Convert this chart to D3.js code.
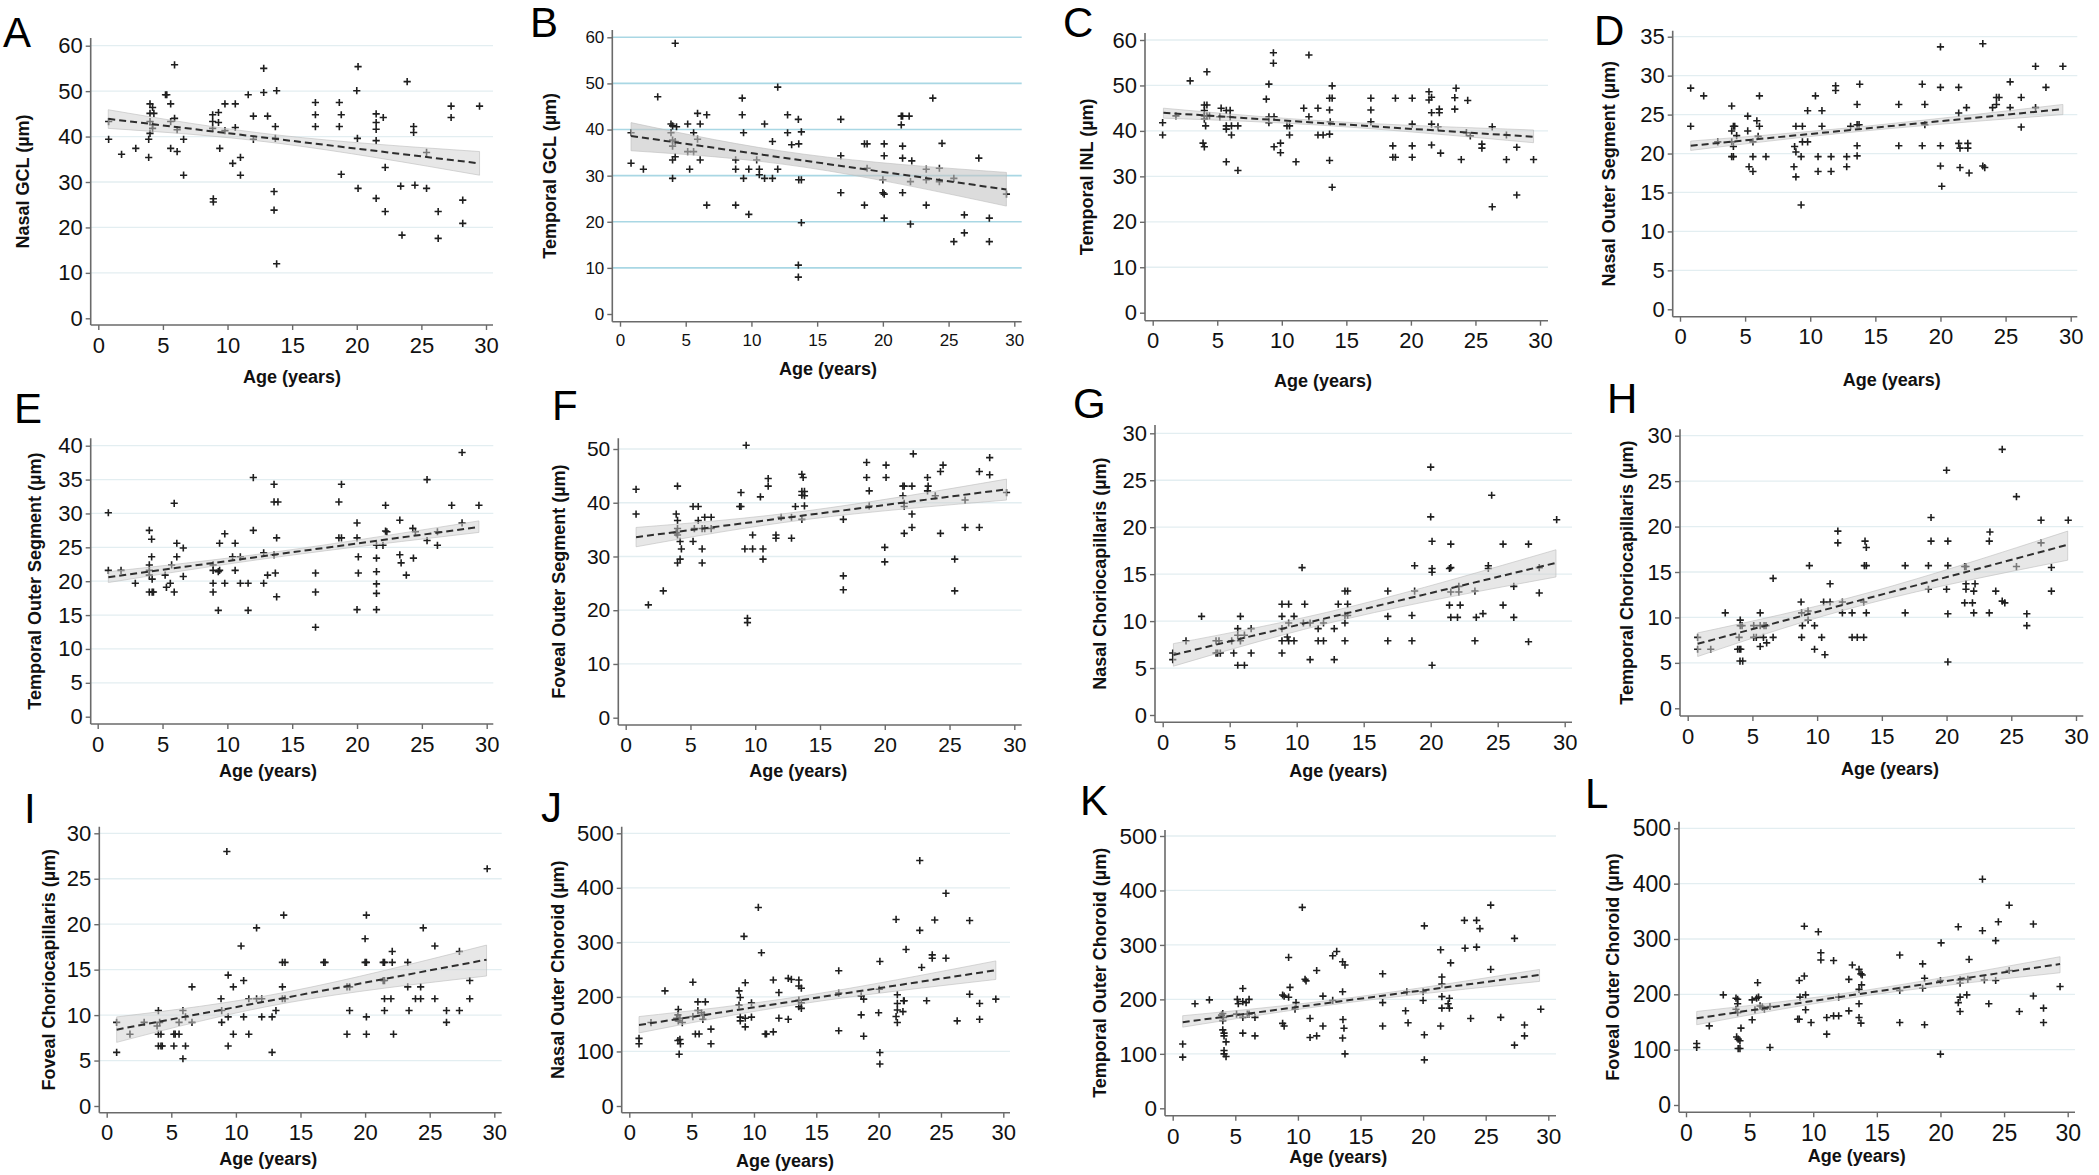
<!DOCTYPE html>
<html><head><meta charset="utf-8">
<script src="https://cdn.jsdelivr.net/npm/d3@7"></script>
<style>body{margin:0;background:#fff}svg{display:block}text{font-family:"Liberation Sans",Arial,sans-serif}</style>
</head><body><svg id="c" width="2099" height="1175"></svg>
<script>
// ---------------- DATA ----------------
const ageTicks = [0, 5, 10, 15, 20, 25, 30];
const yTicks60 = [0, 10, 20, 30, 40, 50, 60];
const yTicks35 = [0, 5, 10, 15, 20, 25, 30, 35];
const yTicks40 = [0, 5, 10, 15, 20, 25, 30, 35, 40];
const yTicks50 = [0, 10, 20, 30, 40, 50];
const yTicks30 = [0, 5, 10, 15, 20, 25, 30];
const yTicks500 = [0, 100, 200, 300, 400, 500];

const panelLetters = ["A","B","C","D","E","F","G","H","I","J","K","L"];
const yTitles = ["Nasal GCL (µm)","Temporal GCL (µm)","Temporal INL  (µm)","Nasal Outer Segment (µm)",
  "Temporal Outer Segment (µm)","Foveal Outer Segment (µm)","Nasal Choriocapillaris (µm)","Temporal Choriocapillaris (µm)",
  "Foveal Choriocapillaris (µm)","Nasal Outer Choroid (µm)","Temporal Outer Choroid (µm)","Foveal Outer Choroid (µm)"];
const xTitle = "Age (years)";

const ptsA = [[0.8,43.3],[0.8,39.4],[1.8,36.1],[2.9,37.4],[4.0,47.2],[4.0,45.1],[4.2,46.4],[4.3,45.1],[4.0,43.3],[4.2,42.6],[4.2,41.8],[4.0,40.7],[3.9,39.4],[3.9,35.4],[5.2,49.2],[5.3,49.2],[5.6,47.2],[5.6,43.3],[5.9,44.0],[5.6,37.4],[5.9,55.8],[6.1,41.5],[6.1,36.7],[6.6,39.4],[6.6,31.5],[8.85,44.8],[8.85,43.3],[8.85,41.8],[8.9,26.3],[8.9,25.6],[9.3,45.3],[9.3,43.1],[9.4,37.4],[9.8,47.2],[9.8,41.3],[10.4,34.1],[10.6,47.2],[10.6,42.0],[11.0,35.4],[11.0,31.5],[11.6,49.2],[12.0,44.5],[12.0,39.4],[12.8,55.0],[12.8,49.7],[13.1,44.5],[13.6,27.9],[13.6,23.8],[13.7,42.2],[13.7,39.6],[13.8,50.1],[13.8,12.0],[16.8,47.5],[16.8,44.8],[16.8,42.2],[18.65,47.5],[18.8,44.8],[18.65,42.2],[18.8,31.7],[20.0,50.1],[20.1,55.4],[20.05,39.6],[20.1,28.6],[21.5,45.0],[21.5,43.1],[21.5,41.6],[21.5,39.1],[21.5,26.4],[22.05,44.2],[22.2,33.2],[22.2,23.5],[23.4,29.1],[23.5,18.3],[23.9,52.1],[24.4,42.2],[24.4,40.9],[24.5,29.3],[25.4,36.5],[25.4,28.6],[26.3,23.5],[26.3,17.6],[27.3,46.7],[27.3,44.2],[28.2,26.0],[28.2,20.9],[29.5,46.7]];
const ptsB = [[0.84,39.3],[0.84,32.7],[1.78,31.4],[2.87,47.1],[3.88,41.2],[3.88,39.3],[4.0,40.8],[4.0,37.7],[4.0,36.4],[4.0,33.4],[4.0,29.4],[4.2,58.7],[4.2,37.4],[4.2,34.1],[4.3,40.6],[5.15,41.2],[5.15,35.2],[5.3,31.4],[5.6,39.3],[5.6,35.2],[5.9,43.5],[5.9,37.9],[6.1,41.2],[6.1,33.4],[6.6,43.2],[6.6,23.6],[8.8,33.4],[8.8,31.4],[8.8,23.6],[9.3,46.8],[9.3,43.2],[9.4,39.3],[9.4,29.4],[9.8,31.4],[9.8,21.6],[10.4,33.4],[10.6,31.4],[10.6,30.2],[11.0,41.2],[11.0,29.4],[11.6,37.4],[11.6,29.4],[12.0,49.2],[12.0,31.4],[12.75,43.2],[12.75,39.3],[13.06,36.7],[13.57,42.2],[13.6,36.9],[13.6,29.1],[13.8,29.1],[13.8,39.5],[13.57,10.6],[13.57,8.0],[13.8,19.8],[16.8,42.2],[16.8,34.3],[16.8,26.3],[18.6,36.9],[18.8,36.9],[18.8,31.6],[18.6,23.6],[20.0,29.1],[20.0,26.3],[20.1,36.9],[20.1,34.3],[20.1,26.0],[20.1,20.8],[21.4,42.9],[21.4,41.0],[21.5,42.9],[21.5,36.4],[21.5,33.8],[21.5,26.3],[22.0,42.9],[22.2,33.2],[22.1,28.7],[22.1,19.5],[23.3,31.4],[23.3,29.1],[23.3,23.6],[23.8,46.8],[24.3,31.6],[24.3,28.7],[24.5,37.0],[25.4,29.4],[25.4,15.7],[26.2,21.5],[26.2,17.6],[27.3,33.8],[28.1,20.8],[28.1,15.7],[29.4,26.0]];
const ptsC = [[0.77,41.8],[0.77,39.1],[1.8,43.3],[2.9,51.0],[3.9,37.3],[4.0,36.5],[4.0,45.7],[4.2,45.7],[4.0,44.5],[4.0,43.3],[4.2,43.3],[4.0,42.6],[4.1,41.1],[4.2,53.0],[4.4,43.3],[5.3,45.0],[5.2,43.1],[5.7,44.5],[6.0,44.5],[5.7,41.1],[5.7,40.4],[6.0,43.1],[6.1,41.1],[6.1,39.1],[6.6,41.1],[5.7,33.2],[6.6,31.3],[8.8,47.0],[9.0,50.3],[9.0,43.1],[9.0,41.8],[9.35,57.2],[9.35,54.9],[9.4,43.1],[9.4,36.5],[9.9,37.3],[9.9,35.2],[10.4,41.1],[10.6,41.1],[10.6,39.1],[11.1,33.2],[11.7,45.0],[12.1,56.7],[12.1,43.1],[12.8,45.0],[12.8,39.1],[13.2,39.1],[13.7,47.2],[13.9,47.2],[13.7,44.6],[13.75,42.0],[13.7,39.3],[13.7,33.5],[13.9,49.9],[13.9,27.6],[16.9,47.2],[16.9,44.6],[16.9,42.0],[18.6,36.7],[18.6,34.2],[18.8,34.2],[18.8,47.2],[20.1,47.2],[20.1,41.5],[20.1,36.7],[20.1,34.2],[21.4,48.6],[21.4,46.8],[21.6,47.4],[21.6,44.0],[21.6,41.5],[21.6,36.9],[22.2,44.8],[22.2,44.0],[22.1,40.9],[22.3,35.1],[23.4,47.3],[23.5,49.4],[23.4,44.8],[23.9,33.7],[24.4,46.7],[24.3,39.6],[24.6,38.9],[25.5,37.1],[25.5,36.2],[26.3,40.9],[26.3,23.3],[27.4,39.1],[27.4,33.7],[28.2,36.4],[28.2,25.9],[29.5,33.7]];
const ptsD = [[0.82,28.4],[0.82,23.5],[1.82,27.4],[2.9,21.5],[3.97,26.1],[3.97,22.9],[4.1,23.5],[4.2,23.5],[3.97,21.5],[4.1,20.9],[3.97,19.6],[4.1,19.6],[4.35,22.3],[5.2,24.8],[5.2,22.9],[5.3,18.3],[5.6,17.7],[5.6,21.5],[5.6,19.6],[5.9,24.2],[6.0,22.2],[6.1,23.5],[6.1,27.4],[6.6,19.6],[8.75,18.3],[8.8,20.9],[8.9,20.2],[8.9,17.0],[8.9,23.5],[9.3,13.4],[9.3,19.6],[9.4,23.5],[9.4,21.5],[9.8,21.5],[9.8,25.5],[10.4,27.4],[10.6,19.6],[10.6,17.7],[10.9,25.5],[10.9,23.5],[11.6,19.6],[11.6,17.7],[11.95,28.7],[11.95,28.1],[12.8,19.6],[12.8,18.3],[13.1,23.5],[13.6,26.3],[13.6,23.7],[13.75,23.7],[13.6,21.0],[13.6,19.7],[13.8,28.9],[16.8,26.3],[16.8,21.0],[18.6,28.9],[18.6,21.0],[18.8,26.3],[18.8,23.7],[20.0,33.7],[20.0,28.5],[20.0,21.0],[20.0,18.4],[20.1,15.8],[21.4,28.5],[21.4,25.2],[21.4,21.3],[21.5,20.7],[21.5,18.2],[22.0,25.9],[22.1,21.3],[22.1,20.7],[22.2,17.5],[23.25,34.1],[23.25,18.4],[23.4,18.2],[24.0,25.9],[24.3,26.3],[24.3,27.2],[24.5,27.2],[25.35,29.2],[25.35,25.9],[26.2,27.2],[26.2,23.4],[27.3,31.2],[27.3,25.9],[28.1,28.5],[29.4,31.2]];
const ptsE = [[0.82,30.1],[0.82,21.6],[1.8,21.6],[2.9,19.7],[3.98,27.5],[3.98,22.4],[3.98,21.6],[3.98,20.9],[3.98,18.4],[4.16,26.2],[4.16,23.6],[4.2,20.3],[4.2,18.4],[4.3,18.4],[5.2,20.9],[5.3,19.1],[5.6,19.7],[5.7,22.4],[5.9,18.4],[5.9,31.5],[6.1,23.6],[6.1,25.6],[6.6,24.9],[6.6,20.7],[8.9,22.4],[8.9,21.6],[8.9,19.7],[8.9,18.4],[9.3,15.7],[9.4,25.6],[9.4,21.6],[9.3,21.4],[9.8,27.0],[9.8,19.7],[10.4,23.6],[10.6,25.6],[10.6,21.6],[11.0,23.6],[11.0,19.7],[11.6,19.7],[11.6,15.7],[12.0,35.3],[12.0,27.5],[12.8,24.2],[12.8,19.7],[13.1,20.9],[13.6,34.3],[13.6,31.7],[13.9,31.7],[13.6,23.9],[13.7,21.2],[13.8,26.4],[13.8,17.7],[16.8,21.2],[16.8,18.4],[16.8,13.2],[18.6,31.7],[18.6,26.4],[18.8,34.3],[18.8,26.4],[20.0,28.6],[20.0,26.4],[20.1,23.6],[20.1,21.2],[20.0,15.8],[21.5,25.3],[21.5,21.4],[21.5,23.4],[21.5,19.6],[21.5,18.2],[21.5,15.8],[22.0,25.3],[22.2,31.2],[22.2,27.4],[22.3,27.3],[23.3,29.0],[23.3,23.9],[23.4,22.7],[23.8,20.9],[24.3,27.8],[24.35,23.4],[24.5,27.3],[25.4,35.0],[25.4,26.0],[26.2,27.3],[26.2,25.3],[27.3,31.2],[28.1,39.0],[28.1,28.6],[29.4,31.2]];
const ptsF = [[0.8,42.5],[0.8,37.9],[1.75,21.0],[2.9,23.6],[3.9,37.9],[4.0,43.1],[4.0,36.7],[4.0,35.2],[3.9,34.4],[4.0,34.0],[4.2,32.8],[4.3,31.4],[4.0,28.8],[4.2,29.5],[5.2,39.3],[5.6,39.3],[5.2,32.8],[5.3,35.2],[5.6,36.7],[5.9,35.2],[6.1,37.3],[6.1,35.2],[6.6,37.3],[6.6,35.2],[5.9,31.4],[5.9,28.8],[8.8,39.3],[8.9,39.3],[8.9,41.9],[9.3,50.7],[9.2,31.4],[9.4,18.5],[9.4,17.7],[9.8,34.0],[9.8,31.4],[10.4,41.1],[10.6,31.4],[10.6,29.5],[11.0,44.5],[11.0,43.1],[11.6,34.0],[11.6,33.4],[12.0,37.3],[12.8,33.4],[12.8,37.3],[13.1,39.3],[13.6,45.3],[13.7,44.7],[13.6,42.1],[13.6,41.4],[13.8,42.1],[13.8,41.3],[13.8,39.4],[13.6,36.9],[16.8,36.9],[16.8,26.4],[16.8,23.8],[18.6,47.5],[18.6,44.7],[18.8,42.2],[18.8,39.4],[20.0,31.7],[20.0,29.0],[20.1,47.0],[20.1,44.7],[21.4,43.1],[21.4,41.3],[21.5,39.9],[21.5,39.3],[21.5,34.3],[21.5,43.1],[22.1,43.1],[22.1,37.9],[22.1,35.4],[22.2,49.1],[23.3,44.7],[23.35,43.1],[23.3,42.2],[23.9,41.3],[24.3,45.8],[24.5,47.0],[24.3,34.3],[25.4,29.5],[25.4,23.6],[26.2,40.5],[26.2,35.4],[27.3,45.8],[27.3,35.4],[28.1,48.4],[28.1,45.2],[29.4,41.9]];
const ptsG = [[0.75,6.6],[0.75,5.9],[1.74,7.9],[2.9,10.5],[3.98,7.9],[3.98,6.6],[4.1,6.6],[4.2,7.9],[4.3,6.6],[5.15,7.9],[5.3,6.6],[5.6,9.2],[5.6,8.5],[5.6,5.3],[6.1,5.3],[5.8,10.5],[5.8,7.9],[6.1,8.5],[6.6,9.2],[6.6,6.6],[8.9,11.8],[9.4,11.8],[8.9,10.5],[8.9,9.2],[8.9,7.9],[8.9,6.6],[9.3,8.3],[9.4,9.8],[9.4,7.9],[9.8,10.5],[9.8,7.9],[10.4,15.7],[10.5,9.8],[10.6,11.8],[11.0,9.8],[11.0,5.9],[11.6,9.2],[11.6,7.9],[12.0,7.9],[12.0,9.8],[12.8,9.2],[12.8,5.9],[13.1,11.8],[13.6,13.2],[13.8,13.2],[13.6,10.6],[13.8,10.6],[13.6,9.8],[13.8,11.8],[13.6,7.9],[16.8,13.2],[16.8,10.5],[16.8,7.9],[18.6,10.6],[18.6,7.9],[18.8,15.9],[18.8,13.2],[20.0,26.4],[20.0,21.1],[20.1,18.5],[20.1,15.6],[20.1,15.2],[20.1,5.3],[21.5,18.2],[21.5,15.7],[21.4,15.6],[21.5,13.1],[21.4,11.7],[21.5,10.4],[22.0,10.4],[22.1,13.7],[22.1,13.1],[22.2,11.7],[23.3,13.2],[23.4,10.4],[23.3,7.9],[23.9,10.8],[24.3,15.9],[24.3,15.6],[24.55,23.4],[25.4,18.2],[25.4,11.7],[26.2,13.7],[26.2,10.4],[27.3,18.2],[27.3,7.8],[28.1,15.7],[28.1,13.0],[29.4,20.8]];
const ptsH = [[0.77,7.8],[0.77,6.5],[1.78,6.5],[2.9,10.5],[3.86,6.5],[4.0,6.5],[4.1,6.5],[4.06,9.7],[4.06,9.1],[3.97,7.8],[4.2,9.1],[4.04,5.2],[4.25,5.2],[5.1,9.1],[5.1,7.8],[5.3,7.8],[5.6,10.5],[5.6,9.1],[5.6,6.8],[5.85,7.8],[5.9,9.1],[6.1,7.2],[6.05,9.1],[6.6,7.8],[6.6,14.3],[8.76,11.7],[8.8,10.5],[8.86,9.1],[8.8,7.8],[9.3,10.7],[9.3,9.7],[9.4,15.7],[9.8,9.1],[9.8,6.5],[10.35,7.8],[10.6,5.9],[10.5,11.7],[11.0,11.7],[11.0,13.7],[11.6,19.5],[11.6,18.2],[11.95,11.7],[11.95,10.5],[12.7,10.5],[12.7,7.8],[13.1,7.8],[13.6,11.7],[13.6,7.8],[13.7,18.4],[13.8,17.7],[13.65,15.7],[13.8,15.7],[13.8,10.5],[16.8,15.7],[16.8,10.5],[18.6,15.7],[18.6,13.1],[18.8,21.0],[18.8,18.4],[20.0,26.2],[20.1,18.4],[20.1,15.7],[20.0,13.1],[20.1,10.4],[20.1,5.1],[21.4,15.6],[21.5,15.6],[21.5,13.7],[21.5,13.1],[21.4,11.6],[22.0,11.6],[22.2,13.7],[22.1,12.9],[22.1,10.5],[23.3,18.4],[23.35,19.4],[23.3,10.5],[23.8,12.9],[24.3,28.5],[24.3,11.8],[24.5,11.6],[25.4,23.3],[25.4,15.6],[26.2,10.4],[26.2,9.1],[27.3,20.7],[27.3,18.2],[28.1,15.5],[28.1,12.9],[29.4,20.7]];
const ptsI = [[0.77,9.2],[0.77,5.9],[1.8,7.9],[2.9,9.2],[4.0,10.5],[3.9,8.8],[4.1,9.2],[4.0,7.9],[4.2,7.9],[4.0,6.6],[4.2,6.6],[4.3,6.6],[5.2,7.9],[5.3,7.9],[5.6,7.9],[5.2,6.6],[5.6,9.2],[5.9,10.5],[5.9,5.2],[6.1,9.8],[6.1,6.6],[6.6,13.1],[6.6,9.2],[8.85,11.8],[8.9,10.5],[8.9,9.2],[9.3,28.0],[9.4,6.6],[9.4,14.4],[9.4,9.8],[9.8,13.1],[9.8,7.9],[10.4,17.6],[10.6,13.8],[10.6,9.8],[11.0,11.8],[11.0,7.9],[11.6,19.6],[11.6,11.8],[12.0,11.8],[12.0,9.8],[12.8,9.8],[12.8,5.9],[13.1,10.5],[13.6,13.1],[13.6,11.8],[13.8,11.8],[13.6,15.8],[13.8,15.8],[13.7,21.0],[16.8,15.8],[16.9,15.8],[18.6,7.9],[18.6,13.1],[18.8,13.1],[18.8,10.5],[20.0,18.4],[20.0,15.8],[20.1,15.8],[20.1,21.0],[20.1,9.8],[20.1,7.9],[21.4,15.8],[21.5,15.8],[21.4,13.8],[21.5,13.8],[21.5,11.8],[21.5,10.5],[22.1,17.0],[22.1,15.8],[22.0,11.8],[22.2,7.9],[23.3,15.8],[23.3,13.1],[23.4,10.5],[23.9,11.8],[24.3,13.1],[24.3,11.8],[24.5,19.6],[25.4,17.6],[25.4,11.8],[26.3,10.5],[26.3,9.2],[27.3,17.0],[27.3,10.5],[28.1,13.8],[28.1,11.8],[29.45,26.1]];
const ptsJ = [[0.78,124],[0.78,114],[1.74,153],[2.86,211],[3.93,177],[3.9,167],[3.8,161],[3.93,156],[4.06,161],[4.25,153],[3.9,120],[4.06,122],[4.1,114],[4.0,95],[5.1,227],[5.1,164],[5.3,132],[5.6,132],[5.5,191],[5.5,175],[5.8,171],[6.0,167],[6.1,191],[5.9,159],[6.55,141],[6.55,114],[8.8,211],[8.9,199],[8.8,185],[8.9,163],[8.9,156],[9.2,311],[9.3,226],[9.3,161],[9.3,145],[9.8,189],[9.8,163],[10.35,364],[10.6,281],[10.9,132],[11.0,132],[11.55,231],[11.55,136],[12.0,208],[12.0,161],[12.75,234],[13.0,232],[12.75,159],[13.6,231],[13.6,220],[13.8,216],[13.6,194],[13.8,189],[13.6,182],[13.8,179],[16.8,248],[16.8,207],[16.8,138],[18.6,202],[18.8,196],[18.6,167],[18.8,128],[20.0,171],[20.05,214],[20.1,265],[20.1,98],[20.1,77],[21.4,342],[21.5,204],[21.5,188],[21.5,176],[21.4,164],[21.5,153],[22.0,193],[22.05,193],[21.95,173],[22.2,287],[23.3,450],[23.3,322],[23.45,254],[23.85,193],[24.3,277],[24.3,271],[24.5,341],[25.4,390],[25.4,271],[26.3,156],[27.3,340],[27.3,205],[28.1,188],[28.1,159],[29.4,196]];
const ptsK = [[0.8,118],[0.8,94],[1.78,192],[2.93,199],[4.0,174],[3.9,171],[4.05,167],[4.0,161],[4.0,144],[4.1,138],[4.1,133],[4.26,122],[4.1,106],[4.1,100],[4.26,95],[5.16,200],[5.24,192],[5.1,173],[5.6,220],[5.6,196],[5.6,167],[5.6,138],[5.86,194],[6.1,200],[5.96,173],[6.1,173],[6.57,167],[6.57,133],[8.78,208],[8.9,206],[8.78,156],[8.9,151],[9.26,277],[9.37,222],[9.26,204],[9.85,194],[9.77,182],[10.35,369],[10.57,237],[10.65,234],[10.97,165],[10.97,130],[11.5,253],[11.5,133],[12.0,206],[12.0,151],[12.78,280],[13.1,288],[12.78,198],[13.57,269],[13.76,263],[13.57,214],[13.6,163],[13.68,147],[13.57,129],[13.76,100],[16.77,247],[16.77,194],[16.77,151],[18.6,179],[18.7,214],[18.8,157],[20.0,214],[20.0,198],[20.1,335],[20.1,135],[20.1,89],[21.4,291],[21.5,241],[21.5,205],[21.5,184],[21.4,151],[21.5,228],[22.0,192],[22.1,202],[22.1,184],[22.2,267],[23.3,345],[23.35,294],[23.8,165],[24.27,345],[24.27,296],[24.54,330],[25.4,373],[25.4,255],[26.2,167],[27.3,312],[27.3,116],[28.1,153],[28.1,133],[29.4,182]];
const ptsL = [[0.84,111],[0.84,104],[1.83,143],[2.93,199],[3.93,193],[4.06,191],[4.06,183],[3.93,173],[4.06,167],[3.98,123],[4.1,119],[4.24,116],[4.1,102],[4.24,102],[4.32,139],[5.2,190],[5.2,154],[5.42,172],[5.55,193],[5.7,195],[5.63,221],[5.82,179],[6.0,177],[6.16,173],[6.6,178],[6.6,104],[8.9,225],[8.9,155],[8.78,155],[8.96,195],[9.3,323],[9.3,233],[9.4,199],[9.4,172],[9.83,149],[10.4,313],[10.6,275],[10.6,262],[11.06,158],[11.06,128],[11.6,261],[11.6,161],[12.0,161],[12.0,195],[12.8,227],[12.8,170],[13.07,253],[13.6,245],[13.75,237],[13.85,235],[13.8,217],[13.6,209],[13.6,183],[13.6,158],[13.75,148],[16.8,271],[16.8,207],[16.8,149],[18.6,255],[18.75,229],[18.6,211],[18.75,145],[20.0,225],[20.05,293],[20.0,92],[21.4,322],[21.4,185],[21.54,195],[21.54,169],[21.54,226],[21.54,220],[22.07,199],[22.15,227],[22.25,263],[23.3,408],[23.3,315],[23.45,226],[23.8,183],[24.34,297],[24.34,225],[24.55,331],[25.4,361],[25.4,243],[26.2,169],[27.3,327],[27.3,197],[28.1,175],[28.1,149],[29.4,214]];

// fitted line end points [age, value]
const fitA = [[0.77,43.9],[29.5,34.1]];
const fitB = [[0.84,38.6],[29.4,27.0]];
const fitC = [[0.83,44.0],[29.5,38.7]];
const fitD = [[0.82,21.0],[29.4,25.7]];
const fitE = [[0.82,20.6],[29.4,28.0]];
const fitF = [[0.8,33.6],[29.4,42.5]];
const fitG = [[0.8,6.4],[29.35,16.2]];
const fitH = [[0.77,7.1],[29.36,18.0]];
const fitI = [[0.77,8.4],[29.4,16.1]];
const fitJ = [[0.78,148.5],[29.4,249]];
const fitK = [[0.8,158],[29.3,245]];
const fitL = [[0.84,156.6],[29.4,254.8]];
// confidence band [age, lower, upper]
const bandA = [[0.77,41.8,45.9],[14,38.5,40.3],[29.5,31.5,36.7]];
const bandB = [[0.84,35.4,41.5],[14,31.85,34.65],[29.4,23.4,30.7]];
const bandC = [[0.83,42.8,45.0],[14,41.07,42.07],[29.5,37.4,40.2]];
const bandD = [[0.82,20.4,21.6],[14,22.87,23.47],[29.4,25.0,26.3]];
const bandE = [[0.82,19.8,21.4],[14,23.6,24.4],[29.4,27.2,28.9]];
const bandF = [[0.8,31.8,35.4],[14,36.9,38.5],[29.4,40.5,44.4]];
const bandG = [[0.8,5.2,7.6],[14,10.33,11.53],[29.35,14.7,17.6]];
const bandH = [[0.77,5.7,8.3],[14,11.54,12.74],[29.36,16.3,19.5]];
const bandI = [[0.77,7.0,9.8],[14,11.36,12.56],[29.4,14.3,17.7]];
const bandJ = [[0.78,134,164],[14,188,202],[29.4,232,266]];
const bandK = [[0.8,149,170],[14,194,202.5],[29.3,233,255]];
const bandL = [[0.84,145,169],[14,197,207],[29.4,239,268]];

// ---------------- LAYOUT ----------------
const layout = [
 {pts:ptsA, fit:fitA, band:bandA, yt:yTicks60, left:90.7, x0:98.3, x30:486, yTop:45.7, y0:318.3, axisY:325, top:38, right:493, ytx:23, xtx:292, xty:383, lx:3, ly:47, fs:22},
 {pts:ptsB, fit:fitB, band:bandB, yt:yTicks60, left:612.3, x0:620, x30:1014.3, yTop:37.3, y0:314, axisY:321.7, top:30, right:1021.7, ytx:550, xtx:828, xty:375, lx:530, ly:37, fs:17, blue:true},
 {pts:ptsC, fit:fitC, band:bandC, yt:yTicks60, left:1145, x0:1152.7, x30:1540, yTop:40, y0:312.7, axisY:320.7, top:33, right:1548, ytx:1086.7, xtx:1323, xty:387, lx:1063, ly:37, fs:22},
 {pts:ptsD, fit:fitD, band:bandD, yt:yTicks35, left:1672.7, x0:1680, x30:2070.7, yTop:36.7, y0:309.3, axisY:316.7, top:30.7, right:2077.3, ytx:1609, xtx:1891.7, xty:386, lx:1594, ly:45, fs:22},
 {pts:ptsE, fit:fitE, band:bandE, yt:yTicks40, left:90.7, x0:97.7, x30:486.7, yTop:445.7, y0:716.7, axisY:724, top:438.3, right:493.3, ytx:35, xtx:268, xty:776.7, lx:14, ly:423.3, fs:22},
 {pts:ptsF, fit:fitF, band:bandF, yt:yTicks50, left:618.3, x0:625.7, x30:1014.3, yTop:449, y0:717.7, axisY:725, top:438.3, right:1021.7, ytx:559.3, xtx:798.3, xty:776.7, lx:552, ly:420, fs:21},
 {pts:ptsG, fit:fitG, band:bandG, yt:yTicks30, left:1155, x0:1162.7, x30:1564.7, yTop:433.3, y0:715, axisY:722.3, top:425, right:1572, ytx:1100, xtx:1338.3, xty:776.7, lx:1073, ly:418, fs:22},
 {pts:ptsH, fit:fitH, band:bandH, yt:yTicks30, left:1680, x0:1687.7, x30:2076, yTop:435.7, y0:708.3, axisY:716, top:429.3, right:2083.3, ytx:1626.7, xtx:1890, xty:775, lx:1607, ly:413.3, fs:22},
 {pts:ptsI, fit:fitI, band:bandI, yt:yTicks30, left:99.3, x0:106.7, x30:494.3, yTop:833.3, y0:1106, axisY:1112.7, top:826.7, right:501.7, ytx:49.3, xtx:268.3, xty:1165, lx:24, ly:822.7, fs:22},
 {pts:ptsJ, fit:fitJ, band:bandJ, yt:yTicks500, left:621.7, x0:629.3, x30:1003.3, yTop:833.3, y0:1106, axisY:1112.7, top:826.7, right:1010, ytx:558.3, xtx:785, xty:1166.7, lx:541, ly:821.7, fs:22},
 {pts:ptsK, fit:fitK, band:bandK, yt:yTicks500, left:1165, x0:1172.7, x30:1548.3, yTop:836, y0:1108.3, axisY:1115.7, top:830, right:1556, ytx:1100, xtx:1338.3, xty:1163.3, lx:1080, ly:815, fs:22.5},
 {pts:ptsL, fit:fitL, band:bandL, yt:yTicks500, left:1679, x0:1686, x30:2067.7, yTop:828.3, y0:1105, axisY:1112.3, top:821.7, right:2075, ytx:1613.3, xtx:1856.7, xty:1161.7, lx:1585, ly:808.3, fs:23}
];

// ---------------- DRAW ----------------
const svg = d3.select("#c");
svg.append("rect").attr("width",2099).attr("height",1175).attr("fill","#fff");
const axisCol = "#6a6a6a";

layout.forEach((p, i) => {
  const g = svg.append("g");
  const yMax = p.yt[p.yt.length-1];
  const x = d3.scaleLinear().domain([0,30]).range([p.x0, p.x30]);
  const y = d3.scaleLinear().domain([0,yMax]).range([p.y0, p.yTop]);

  // grid
  g.append("g").selectAll("line").data(p.yt.filter(v => v > 0)).join("line")
    .attr("x1", p.left).attr("x2", p.right)
    .attr("y1", d => y(d)).attr("y2", d => y(d))
    .attr("stroke", p.blue ? "#a9d7e4" : "#e3eef1").attr("stroke-width", p.blue ? 1.6 : 1.3);

  // points
  g.append("g").selectAll("path").data(p.pts).join("path")
    .attr("transform", d => `translate(${x(d[0])},${y(d[1])})`)
    .attr("d", "M-3.6,0H3.6M0,-3.6V3.6")
    .attr("stroke", "#1e1e1e").attr("stroke-width", 1.6).attr("fill", "none");

  // band
  const area = d3.area().x(d => x(d[0])).y0(d => y(d[1])).y1(d => y(d[2])).curve(d3.curveNatural);
  g.append("path").datum(p.band).attr("d", area)
    .attr("fill", p.blue ? "#c4c4c4" : "#cfcfcf").attr("fill-opacity", p.blue ? 0.6 : 0.5)
    .attr("stroke", "#bdbdbd").attr("stroke-width", 0.6);

  // fit line
  const line = d3.line().x(d => x(d[0])).y(d => y(d[1]));
  g.append("path").datum(p.fit).attr("d", line)
    .attr("stroke", "#2e2e2e").attr("stroke-width", 2).attr("stroke-dasharray", "7,4").attr("fill", "none");

  // axes
  const ya = g.append("g").attr("transform", `translate(${p.left},0)`)
    .call(d3.axisLeft(y).tickValues(p.yt).tickSize(5).tickPadding(3));
  ya.select(".domain").remove();
  const xa = g.append("g").attr("transform", `translate(0,${p.axisY})`)
    .call(d3.axisBottom(x).tickValues(ageTicks).tickSize(5).tickPadding(7));
  xa.select(".domain").remove();
  [ya, xa].forEach(a => {
    a.attr("font-size", p.fs).attr("font-family", '"Liberation Sans", Arial, sans-serif');
    a.selectAll(".tick line").attr("stroke", axisCol).attr("stroke-width", 1.4);
    a.selectAll(".tick text").attr("fill", "#111");
  });
  g.append("line").attr("x1", p.left).attr("x2", p.left).attr("y1", p.top).attr("y2", p.axisY)
    .attr("stroke", axisCol).attr("stroke-width", 1.6);
  g.append("line").attr("x1", p.left).attr("x2", p.right).attr("y1", p.axisY).attr("y2", p.axisY)
    .attr("stroke", axisCol).attr("stroke-width", 1.6);

  // titles
  g.append("text").attr("x", p.xtx).attr("y", p.xty).attr("text-anchor", "middle")
    .attr("font-size", 18).attr("font-weight", "bold").attr("fill", "#111").text(xTitle);
  const cy = (p.top + p.axisY) / 2;
  g.append("text").attr("transform", `translate(${p.ytx},${cy}) rotate(-90)`)
    .attr("text-anchor", "middle").attr("dominant-baseline", "central")
    .attr("font-size", 18).attr("font-weight", "bold").attr("fill", "#111").text(yTitles[i]);
  g.append("text").attr("x", p.lx).attr("y", p.ly).attr("font-size", 42).attr("fill", "#000").text(panelLetters[i]);
});
</script>
</body></html>
